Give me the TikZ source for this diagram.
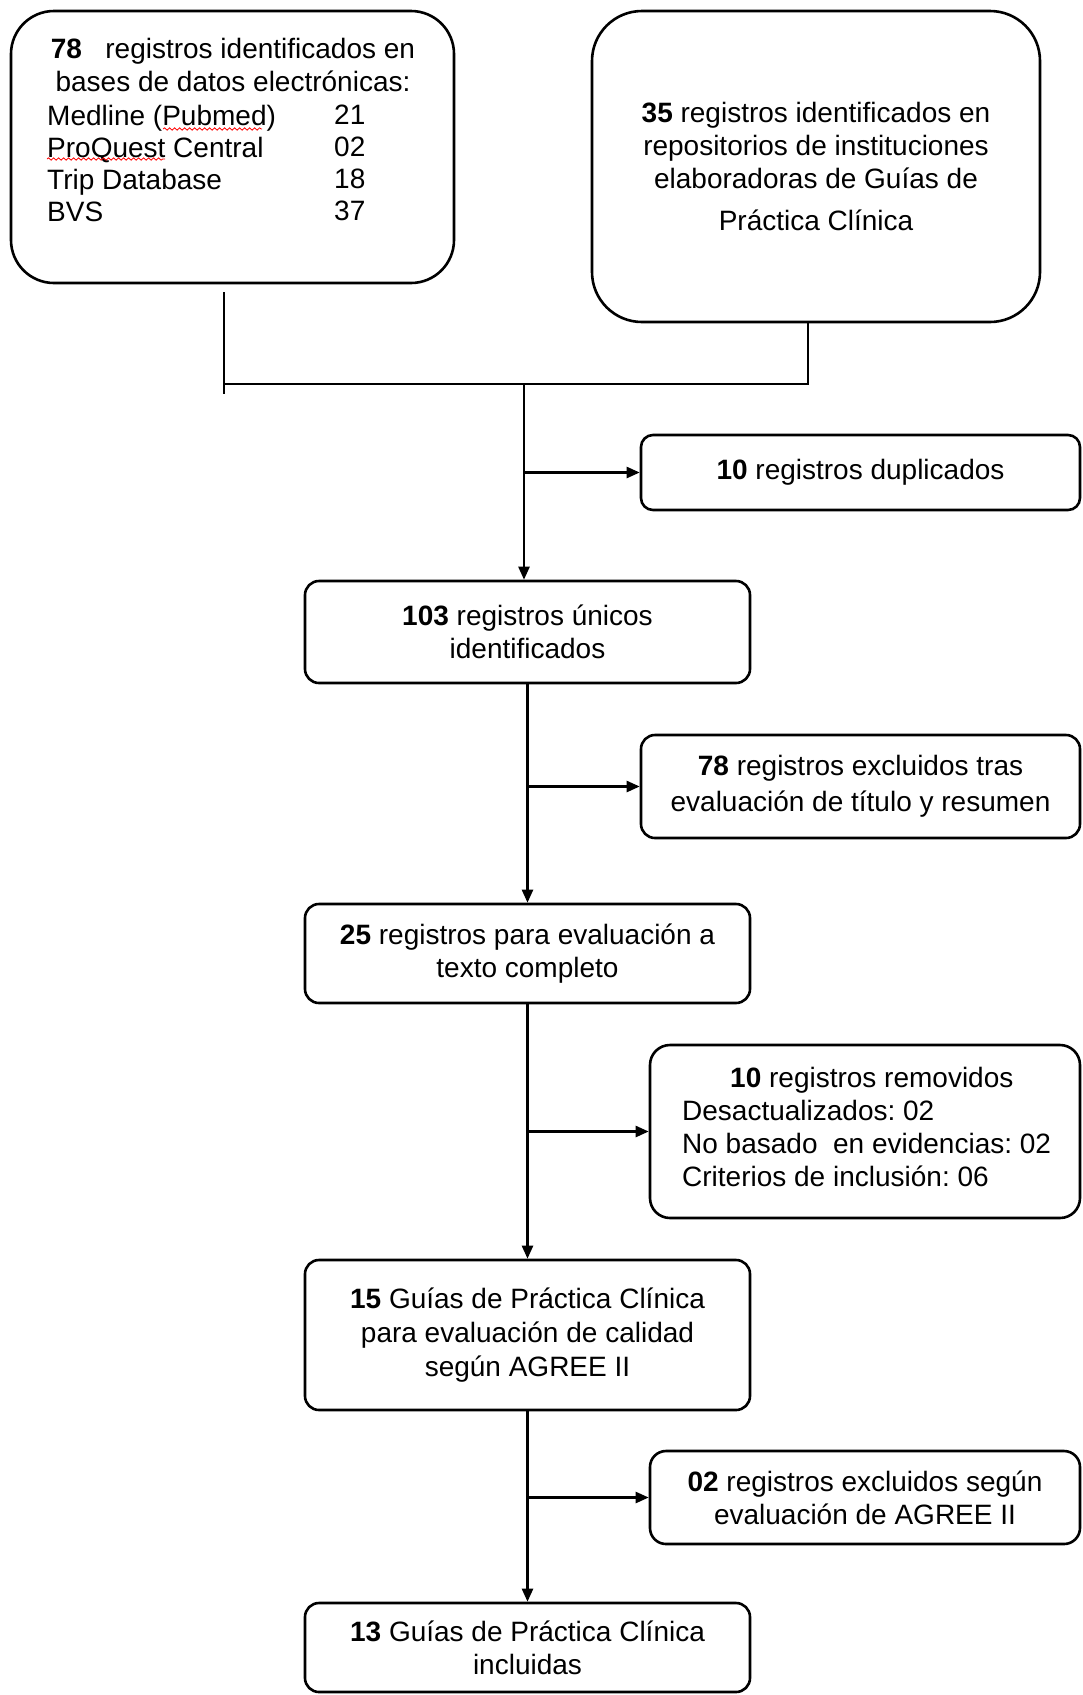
\documentclass[tikz,border=0pt]{standalone}
\usepackage{fontspec}
\setmainfont{Liberation Sans}
\usetikzlibrary{arrows.meta,decorations.pathmorphing}
\frenchspacing
\begin{document}
\begin{tikzpicture}[x=1pt,y=-1pt,
  every node/.style={font=\fontsize{28}{33}\selectfont, inner sep=0pt},
  boxbase/.style={draw, line width=2.6pt, rectangle, align=center},
  leftbox/.style={boxbase, rounded corners=14pt, minimum width=445pt},
  rightbox/.style={boxbase, rounded corners=14pt},
  line/.style={line width=2.4pt},
  arr/.style={line width=2.4pt, -{Triangle[length=13pt,width=11pt]}},
  squiggle/.style={red, line width=0.8pt, decorate, decoration={snake, amplitude=1.2pt, segment length=5pt}}
]
\useasboundingbox (0,0) rectangle (1082,1695);

% top boxes
\node[boxbase, rounded corners=43pt, minimum width=443pt, minimum height=272pt] (box1) at (232.5,147) {};
\node[align=center] (box1head) at (233,65) {\textbf{78}\ \ \ registros identificados en\\bases de datos electrónicas:};
\node[align=left, anchor=west, font=\fontsize{28}{32}\selectfont] (box1names) at (47,163) {Medline (Pubmed)\\ProQuest Central\\Trip Database\\BVS};
\node[align=left, anchor=west, font=\fontsize{28}{32}\selectfont] (box1nums) at (334,163) {21\\02\\18\\37};
\draw[squiggle] (163,129) -- (262,129);
\draw[squiggle] (47,159) -- (165,159);

\node[boxbase, rounded corners=50pt, minimum width=448pt, minimum height=311pt] (box2) at (816,166.5)
  {\textbf{35} registros identificados en\\repositorios de instituciones\\elaboradoras de Guías de\\[9pt]Práctica Clínica};

% left column
\node[leftbox, minimum height=102pt] (box3) at (527.5,632) {\textbf{103} registros únicos\\identificados};
\node[leftbox, minimum height=99pt] (box4) at (527.5,953.5) {\textbf{25} registros para evaluación a\\texto completo};
\node[leftbox, minimum height=150pt, font=\fontsize{28}{34}\selectfont] (box5) at (527.5,1335) {\textbf{15} Guías de Práctica Clínica\\para evaluación de calidad\\según AGREE II};
\node[leftbox, minimum height=89pt] (box6) at (527.5,1647.5) {\textbf{13} Guías de Práctica Clínica\\incluidas};

% right column
\node[rightbox, rounded corners=12pt, minimum width=439pt, minimum height=75pt] (dup) at (860.5,472.5) {\textbf{10} registros duplicados};
\node[rightbox, minimum width=439pt, minimum height=103pt, font=\fontsize{28}{36}\selectfont] (excl) at (860.5,786.5) {\textbf{78} registros excluidos tras\\evaluación de título y resumen};
\node[rightbox, rounded corners=20pt, minimum width=430pt, minimum height=173pt] (removed) at (865,1131.5) {};
\node[align=left, anchor=west, font=\fontsize{28}{33}\selectfont] (removedtext) at (682,1127)
  {\hspace*{48pt}\textbf{10} registros removidos\\Desactualizados: 02\\No basado\ \ en evidencias: 02\\Criterios de inclusión: 06};
\node[rightbox, rounded corners=16pt, minimum width=430pt, minimum height=93pt] (excl2) at (865,1497.5) {\textbf{02} registros excluidos según\\evaluación de AGREE II};

% merging connectors
\coordinate (l1) at (224,292);
\coordinate (l2) at (224,394);
\coordinate (jl) at (224,384);
\coordinate (jm) at (524,384);
\coordinate (jr) at (808,384);
\draw[line] (l1) -- (l2);
\draw[line] (jl) -- (jr) -- (jr |- box2.south);
\draw[arr] (jm) -- (jm |- box3.north);
\draw[arr] (jm |- dup.west) -- (dup.west);

% main flow
\draw[arr] (box3.south) -- (box4.north);
\draw[arr] (box3.south |- excl.west) -- (excl.west);
\draw[arr] (box4.south) -- (box5.north);
\draw[arr] (box4.south |- removed.west) -- (removed.west);
\draw[arr] (box5.south) -- (box6.north);
\draw[arr] (box5.south |- excl2.west) -- (excl2.west);
\end{tikzpicture}
\end{document}
